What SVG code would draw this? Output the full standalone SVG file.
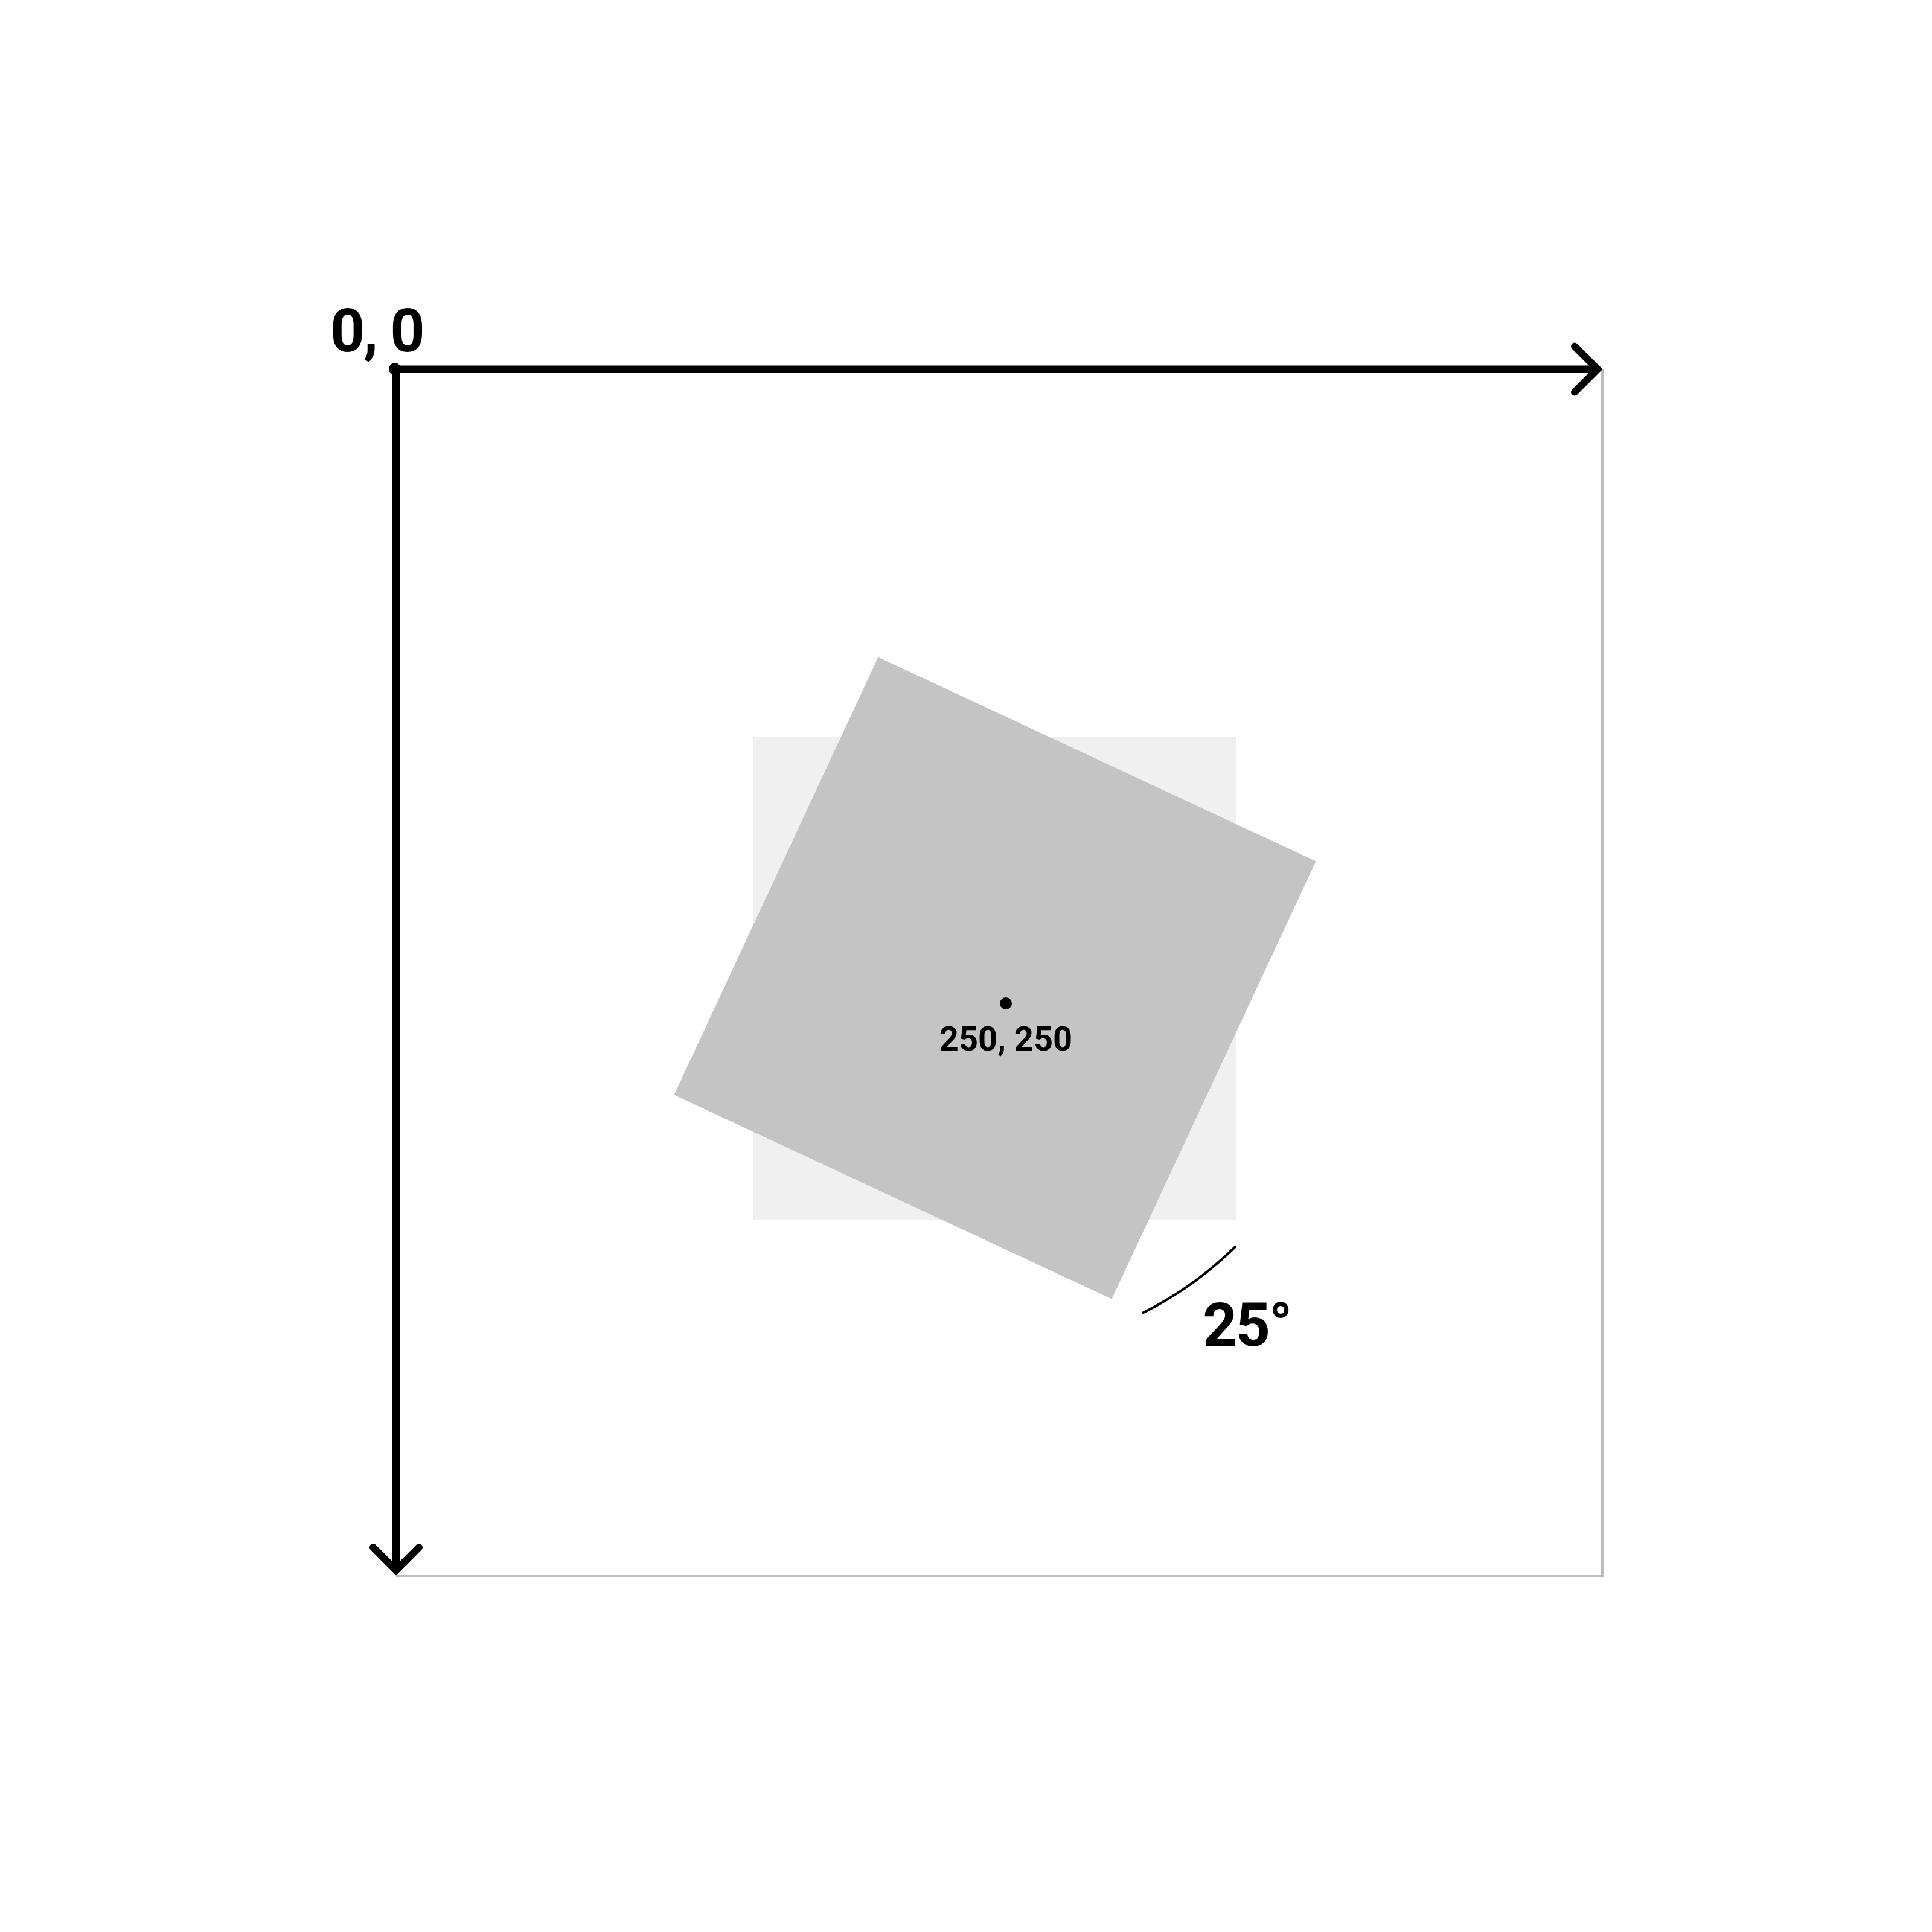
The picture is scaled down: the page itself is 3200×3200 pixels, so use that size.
<svg xmlns="http://www.w3.org/2000/svg" width="3200" height="3200" viewBox="0 0 3200 3200">
<style>
.axis{stroke:#000;stroke-width:12;fill:none;stroke-linecap:butt}
.head{stroke:#000;stroke-width:12;fill:none;stroke-linecap:round;stroke-linejoin:miter}
.lbl{font-family:Roboto,"Liberation Sans",sans-serif;font-weight:700;fill:#000}
.big{font-size:100px;letter-spacing:-2.5px}
</style>
<rect width="3200" height="3200" fill="#fff"/>
<g id="frame">
<path d="M656,2610 H2654 V611" fill="none" stroke="#bdbdbd" stroke-width="4"/>
</g>
<g id="original-square">
<rect x="1248" y="1220" width="800" height="800" fill="#f0f0f0"/>
</g>
<g id="rotated-square">
<rect x="1248" y="1220" width="800" height="800" fill="#c4c4c4" transform="rotate(25 1648 1620)"/>
</g>
<g id="connectors">
<line class="axis" x1="656" y1="611.5" x2="2646" y2="611.5"/>
<polyline class="head" points="2608,573.5 2646,611.5 2608,649.5"/>
<line class="axis" x1="656" y1="611.5" x2="656" y2="2601"/>
<polyline class="head" points="618,2563 656,2601 694,2563"/>
<path d="M2047,2064 A603,603 0 0 1 1892,2175" fill="none" stroke="#000" stroke-width="4"/>
</g>
<g id="origin">
<circle cx="654" cy="611" r="10" fill="#000"/>
<text class="lbl big" x="624" y="582" text-anchor="middle">0, 0</text>
</g>
<g id="center">
<circle cx="1666" cy="1662" r="10" fill="#000"/>
<text class="lbl" x="1666" y="1740" font-size="56" text-anchor="middle">250, 250</text>
</g>
<g id="angle">
<text class="lbl big" x="1992" y="2229">25°</text>
</g>
</svg>
